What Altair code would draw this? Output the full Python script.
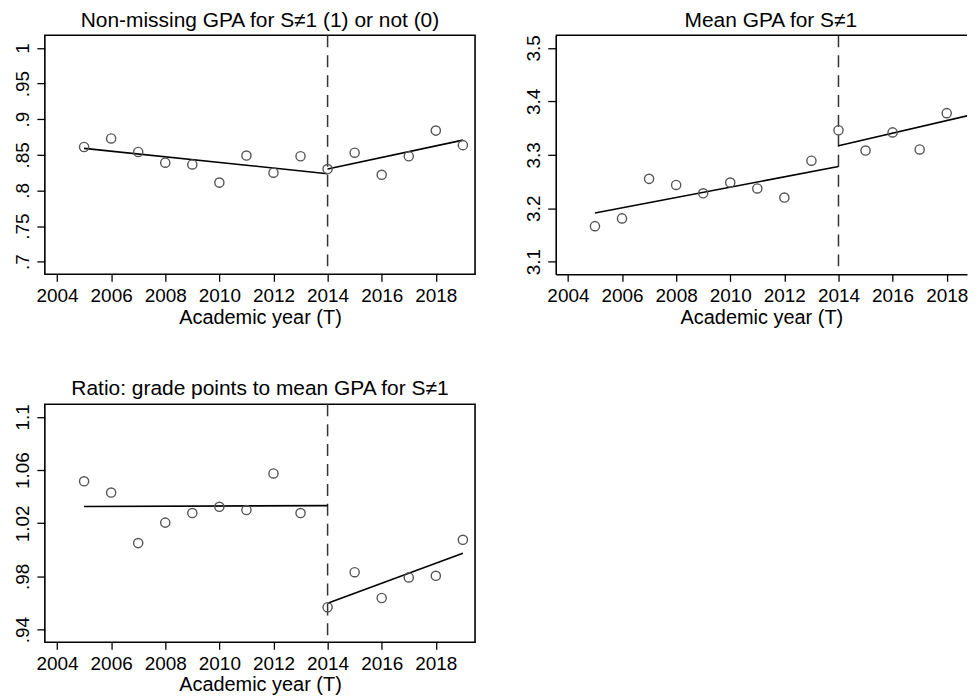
import altair as alt
import pandas as pd

FONT = "Liberation Sans"

years = list(range(2005, 2020))
cutoff_year = 2014
x_ticks = [2004, 2006, 2008, 2010, 2012, 2014, 2016, 2018]
x_title = "Academic year (T)"

# Panel 1: Non-missing GPA
title1 = "Non-missing GPA for S\u22601 (1) or not (0)"
vals1 = [0.861, 0.873, 0.854, 0.839, 0.8365, 0.811, 0.849, 0.825, 0.848, 0.830,
         0.853, 0.822, 0.848, 0.884, 0.8636]
fit1_pre = [0.859, 0.8235]
fit1_post = [0.830, 0.8706]
yticks1 = [0.7, 0.75, 0.8, 0.85, 0.9, 0.95, 1.0]
ylabels1 = [".7", ".75", ".8", ".85", ".9", ".95", "1"]
ydom1 = [0.6823, 1.0177]

# Panel 2: Mean GPA
title2 = "Mean GPA for S\u22601"
vals2 = [3.1665, 3.181, 3.255, 3.2436, 3.228, 3.248, 3.237, 3.220, 3.289, 3.346,
         3.308, 3.342, 3.310, 3.378, 3.391]
fit2_pre = [3.191, 3.278]
fit2_post = [3.317, 3.376]
yticks2 = [3.1, 3.2, 3.3, 3.4, 3.5]
ylabels2 = ["3.1", "3.2", "3.3", "3.4", "3.5"]
ydom2 = [3.0763, 3.5237]

# Panel 3: Ratio
title3 = "Ratio: grade points to mean GPA for S\u22601"
vals3 = [1.0516, 1.0431, 1.0051, 1.0205, 1.0277, 1.0324, 1.030, 1.0575, 1.0277, 0.9569,
         0.9832, 0.9638, 0.9793, 0.9805, 1.0076]
fit3_pre = [1.0326, 1.0333]
fit3_post = [0.9599, 0.9974]
yticks3 = [0.94, 0.98, 1.02, 1.06, 1.1]
ylabels3 = [".94", ".98", "1.02", "1.06", "1.1"]
ydom3 = [0.9305, 1.1095]

fit_years_pre = [2005, 2014]
fit_years_post = [2014, 2019]

XDOM_FULL = [2003.55, 2019.45]   # panels 1 and 3
XDOM_CUT = [2003.55, 2018.75]    # panel 2 runs off the right edge of the page


def label_expr(ticks, labels):
    expr = "''"
    for t, l in reversed(list(zip(ticks, labels))):
        expr = f"abs(datum.value - {t}) < 1e-9 ? '{l}' : ({expr})"
    return expr


def panel(title, vals, fit_pre, fit_post, yticks, ylabels, ydom, xdom, w, h,
          title_offset, title_dx=0, open_right=False, x_title_pad=2.5):
    pts = pd.DataFrame({"year": years, "value": vals})
    fit = pd.DataFrame({
        "year": fit_years_pre + fit_years_post,
        "value": fit_pre + fit_post,
        "seg": ["pre", "pre", "post", "post"],
    })
    cut = pd.DataFrame({"year": [cutoff_year]})

    xenc = alt.X(
        "year:Q",
        scale=alt.Scale(domain=xdom, nice=False, zero=False),
        axis=alt.Axis(
            values=x_ticks, format="d", title=x_title,
            tickSize=7, labelPadding=5, labelFontSize=19,
            titleFontSize=20, titlePadding=x_title_pad,
            minExtent=31, maxExtent=31,
            domain=open_right, domainColor="#000", domainWidth=1.6,
            grid=False, labelFont=FONT, titleFont=FONT, tickColor="#000",
            tickWidth=1.3, labelColor="#000", titleColor="#000",
            titleFontWeight="normal", labelFlush=False, labelOverlap=False,
        ),
    )
    yscale = alt.Scale(domain=ydom, nice=False, zero=False)
    yaxis = alt.Axis(
        values=yticks, labelExpr=label_expr(yticks, ylabels), title=None,
        tickSize=8, labelPadding=4, labelFontSize=19, labelAngle=270,
        labelAlign="center", labelBaseline="bottom",
        minExtent=31, maxExtent=31,
        domain=open_right, domainColor="#000", domainWidth=1.6, grid=False,
        labelFont=FONT, tickColor="#000", tickWidth=1.3, labelColor="#000",
        labelFlush=False, labelOverlap=False,
    )

    rule = alt.Chart(cut).mark_rule(
        color="#333", strokeWidth=1.5, strokeDash=[12, 8]
    ).encode(x=xenc)

    lines = alt.Chart(fit).mark_line(
        color="#000", strokeWidth=1.6, clip=True
    ).encode(
        x=xenc, y=alt.Y("value:Q", scale=yscale, axis=yaxis), detail="seg:N"
    )

    points = alt.Chart(pts).mark_point(
        shape="circle", filled=False, size=85, color="#555", strokeWidth=1.4,
        opacity=1, clip=True
    ).encode(x=xenc, y=alt.Y("value:Q", scale=yscale, axis=yaxis))

    layers = [rule, lines, points]
    props = dict(
        width=w, height=h,
        title=alt.TitleParams(
            title, fontSize=21, font=FONT, fontWeight="normal", anchor="middle",
            offset=title_offset, dx=title_dx, color="#000",
        ),
    )
    if open_right:
        top = pd.DataFrame({"value": [ydom[1]]})
        top_rule = alt.Chart(top).mark_rule(color="#000", strokeWidth=1.6).encode(
            y=alt.Y("value:Q", scale=yscale, axis=yaxis)
        )
        layers.append(top_rule)
        props["view"] = alt.ViewBackground(stroke="transparent")
    return alt.layer(*layers).properties(**props)


p1 = panel(title1, vals1, fit1_pre, fit1_post, yticks1, ylabels1, ydom1,
           XDOM_FULL, 432, 240, 4)
p2 = panel(title2, vals2, fit2_pre, fit2_post, yticks2, ylabels2, ydom2,
           XDOM_CUT, 413, 240, 4, title_dx=9.5, open_right=True)
p3 = panel(title3, vals3, fit3_pre, fit3_post, yticks3, ylabels3, ydom3,
           XDOM_FULL, 432, 239, 5, x_title_pad=1)

chart = alt.vconcat(
    alt.hconcat(p1, p2, spacing=48),
    p3,
    spacing=47.5,
).properties(
    padding={"left": 5, "top": -1, "right": 0, "bottom": 0},
    background="white",
).configure_view(
    stroke="#000", strokeWidth=1.6
)

chart.save("out.html", embed_options={"renderer": "svg", "actions": False})
